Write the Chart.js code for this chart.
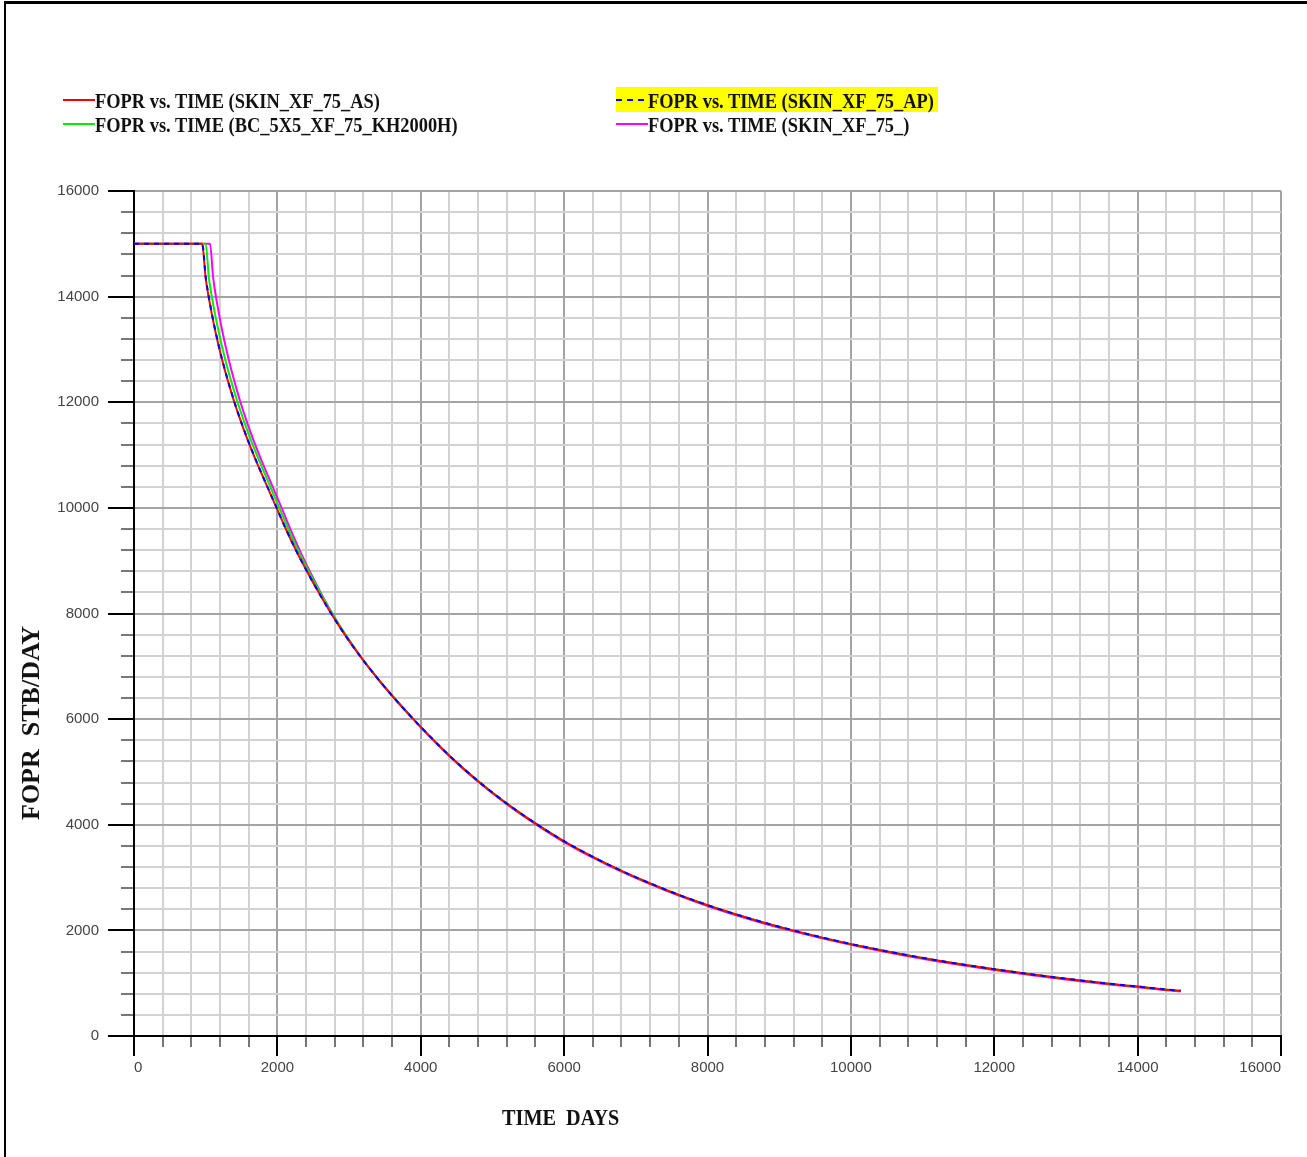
<!DOCTYPE html>
<html lang="en">
<head>
<meta charset="UTF-8">
<title>FOPR vs. TIME</title>
<style>
    body {
        margin: 0;
        background: #ffffff;
    }

    .page {
        position: relative;
        width: 1307px;
        height: 1157px;
        overflow: hidden;
    }

    /* marco negro arriba y a la izquierda */
    .frame {
        position: absolute;
        left: 4px;
        top: 1px;
        right: -10px;
        bottom: -10px;
        border-top: 3px solid #000;
        border-left: 2px solid #000;
    }

    .chart-box {
        position: absolute;
        left: 0;
        top: 0;
        width: 1307px;
        height: 1157px;
    }

    .legend-item {
        position: absolute;
        height: 24px;
        line-height: 24px;
        padding-left: 32px;
        font: bold 20px 'Liberation Serif', serif;
        color: #111;
        white-space: nowrap;
    }

    .legend-item .txt {
        display: inline-block;
        transform: scaleX(0.92);
        transform-origin: left center;
    }

    .swatch {
        position: absolute;
        left: 0;
        top: 9px;
        width: 32px;
        height: 2px;
    }

    .highlight {
        position: absolute;
        left: 616px;
        top: 87px;
        width: 322px;
        height: 25px;
        background: #ffff00;
    }

    .axis-title {
        position: absolute;
        font: bold 23px 'Liberation Serif', serif;
        color: #111;
        white-space: pre;
    }
</style>
</head>
<body>
<div class="page">
    <div class="frame"></div>
    <div class="chart-box"><canvas id="foprChart"></canvas></div>

    <div class="highlight"></div>
    <div class="legend-item" style="left:63px; top:90px;"><span class="swatch" style="background:#ff0000;"></span><span class="txt">FOPR vs. TIME (SKIN_XF_75_AS)</span></div>
    <div class="legend-item" style="left:63px; top:114px;"><span class="swatch" style="background:#00ee00;"></span><span class="txt">FOPR vs. TIME (BC_5X5_XF_75_KH2000H)</span></div>
    <div class="legend-item" style="left:616px; top:90px;"><span class="swatch" style="background:repeating-linear-gradient(to right,#0000ff 0 6px,transparent 6px 11px);"></span><span class="txt">FOPR vs. TIME (SKIN_XF_75_AP)</span></div>
    <div class="legend-item" style="left:616px; top:114px;"><span class="swatch" style="background:#ff00ff;"></span><span class="txt">FOPR vs. TIME (SKIN_XF_75_)</span></div>

    <div class="axis-title" style="left:502px; top:1105px; transform:scaleX(0.88); transform-origin:left top;">TIME  DAYS</div>
    <div class="axis-title" style="left:31px; top:723px; font-size:26px; transform:translate(-50%,-50%) rotate(-90deg);">FOPR  STB/DAY</div>
</div>

<script src="https://cdn.jsdelivr.net/npm/chart.js"></script>
<script>
    // etiquetas de los ejes (las marcas menores van cada 400)
    const xTickValues = [0, 2000, 4000, 6000, 8000, 10000, 12000, 14000, 16000];
    const yTickValues = [0, 2000, 4000, 6000, 8000, 10000, 12000, 14000, 16000];

    // SKIN_XF_75_AS (rojo)
    const timeAS = [0, 950, 1000, 1050, 1100, 1150, 1200, 1250, 1300, 1350, 1400, 1500, 1600, 1700, 1800, 1900, 2000, 2115, 2258, 2412, 2575, 2750, 2940, 3150, 3379, 3629, 3896, 4000, 4400, 4800, 5200, 5600, 6000, 6400, 6800, 7200, 7600, 8000, 8400, 8800, 9200, 9600, 10000, 10400, 10800, 11200, 11600, 12000, 12400, 12800, 13200, 13600, 14000, 14400, 14600];
    const rateAS = [15000, 15000, 14350, 13930, 13570, 13250, 12960, 12695, 12450, 12220, 12000, 11600, 11235, 10900, 10585, 10275, 9965, 9610, 9200, 8800, 8400, 8000, 7600, 7200, 6800, 6400, 6000, 5850, 5305, 4825, 4400, 4025, 3685, 3390, 3125, 2888, 2670, 2475, 2300, 2140, 1995, 1862, 1740, 1628, 1525, 1430, 1343, 1262, 1186, 1115, 1050, 988, 935, 878, 855];

    // SKIN_XF_75_AP (azul discontinua)
    const timeAP = [0, 952, 1002, 1052, 1102, 1152, 1202, 1252, 1302, 1352, 1402, 1502, 1602, 1702, 1801, 1901, 2001, 2116, 2258, 2412, 2575, 2750, 2940, 3150, 3379, 3629, 3896, 4000, 4400, 4800, 5200, 5600, 6000, 6400, 6800, 7200, 7600, 8000, 8400, 8800, 9200, 9600, 10000, 10400, 10800, 11200, 11600, 12000, 12400, 12800, 13200, 13600, 14000, 14400, 14600];
    const rateAP = [15000, 15000, 14350, 13930, 13570, 13250, 12960, 12695, 12450, 12220, 12000, 11600, 11235, 10900, 10585, 10275, 9965, 9610, 9200, 8800, 8400, 8000, 7600, 7200, 6800, 6400, 6000, 5852, 5308, 4828, 4403, 4028, 3688, 3393, 3128, 2891, 2673, 2478, 2303, 2143, 1998, 1865, 1743, 1631, 1528, 1433, 1346, 1265, 1189, 1118, 1053, 991, 938, 881, 858];

    // BC_5X5_XF_75_KH2000H (verde)
    const timeBC = [0, 1000, 1045, 1095, 1145, 1195, 1245, 1295, 1345, 1395, 1445, 1545, 1645, 1745, 1843, 1940, 2038, 2150, 2288, 2438, 2595, 2765, 2950, 3155, 3382, 3631, 3897, 4000, 4400, 4800, 5200, 5600, 6000, 6400, 6800, 7200, 7600, 8000, 8400, 8800, 9200, 9600, 10000, 10400, 10800, 11200, 11600, 12000, 12400, 12800, 13200, 13600, 14000, 14400, 14600];
    const rateBC = [15000, 15000, 14350, 13930, 13570, 13250, 12960, 12695, 12450, 12220, 12000, 11600, 11235, 10900, 10585, 10275, 9965, 9610, 9200, 8800, 8400, 8000, 7600, 7200, 6800, 6400, 6000, 5853, 5307, 4826, 4400, 4025, 3685, 3390, 3125, 2888, 2670, 2475, 2300, 2140, 1995, 1862, 1740, 1628, 1525, 1430, 1343, 1262, 1186, 1115, 1050, 988, 935, 878, 855];

    // SKIN_XF_75_ (magenta)
    const timeSK = [0, 1060, 1105, 1152, 1200, 1247, 1295, 1342, 1390, 1437, 1485, 1582, 1680, 1778, 1876, 1973, 2070, 2177, 2310, 2452, 2603, 2766, 2948, 3153, 3380, 3629, 3896, 4000, 4400, 4800, 5200, 5600, 6000, 6400, 6800, 7200, 7600, 8000, 8400, 8800, 9200, 9600, 10000, 10400, 10800, 11200, 11600, 12000, 12400, 12800, 13200, 13600, 14000, 14400, 14600];
    const rateSK = [15000, 15000, 14350, 13930, 13570, 13250, 12960, 12695, 12450, 12220, 12000, 11600, 11235, 10900, 10585, 10275, 9965, 9610, 9200, 8800, 8400, 8000, 7600, 7200, 6800, 6400, 6000, 5845, 5298, 4815, 4390, 4013, 3672, 3377, 3112, 2875, 2657, 2462, 2287, 2127, 1982, 1849, 1727, 1615, 1512, 1417, 1330, 1250, 1174, 1103, 1038, 976, 923, 866, 843];

    function toPoints(times, rates) {
        return times.map((t, i) => ({ x: t, y: rates[i] }));
    }

    const isMajor = v => v % 2000 === 0;

    // marcas largas en los valores principales
    const majorTickMarks = {
        id: 'majorTickMarks',
        afterDraw(chart) {
            const { ctx, chartArea, scales } = chart;
            ctx.save();
            ctx.strokeStyle = '#000';
            ctx.lineWidth = 2;
            xTickValues.forEach(v => {
                const px = Math.round(scales.x.getPixelForValue(v));
                ctx.beginPath();
                ctx.moveTo(px, chartArea.bottom);
                ctx.lineTo(px, chartArea.bottom + 20);
                ctx.stroke();
            });
            yTickValues.forEach(v => {
                const py = Math.round(scales.y.getPixelForValue(v));
                ctx.beginPath();
                ctx.moveTo(chartArea.left - 26, py);
                ctx.lineTo(chartArea.left, py);
                ctx.stroke();
            });
            ctx.restore();
        }
    };

    const tickFont = { family: "'Liberation Sans Narrow', 'Liberation Sans', sans-serif", size: 15 };

    const ctx = document.getElementById('foprChart').getContext('2d');
    const foprChart = new Chart(ctx, {
        type: 'line',
        data: {
            datasets: [
                {
                    label: 'FOPR vs. TIME (SKIN_XF_75_AP)',
                    data: toPoints(timeAP, rateAP),
                    borderColor: '#0000ff',
                    borderDash: [5, 5],
                    borderWidth: 2
                },
                {
                    label: 'FOPR vs. TIME (SKIN_XF_75_AS)',
                    data: toPoints(timeAS, rateAS),
                    borderColor: '#ff0000',
                    borderWidth: 2
                },
                {
                    label: 'FOPR vs. TIME (BC_5X5_XF_75_KH2000H)',
                    data: toPoints(timeBC, rateBC),
                    borderColor: '#00ee00',
                    borderWidth: 2
                },
                {
                    label: 'FOPR vs. TIME (SKIN_XF_75_)',
                    data: toPoints(timeSK, rateSK),
                    borderColor: '#ff00ff',
                    borderWidth: 2
                }
            ]
        },
        options: {
            responsive: true,
            maintainAspectRatio: false,
            animation: false,
            elements: {
                point: { radius: 0 },
                line: { cubicInterpolationMode: 'monotone', fill: false }
            },
            layout: {
                padding: { left: 0, right: 26, top: 191, bottom: 61 }
            },
            plugins: {
                legend: { display: false },
                tooltip: { enabled: false }
            },
            scales: {
                x: {
                    type: 'linear',
                    min: 0,
                    max: 16000,
                    afterFit: scale => { scale.height = 60; },
                    border: { color: '#000', width: 2 },
                    grid: {
                        color: c => isMajor(c.tick.value) ? '#a4a4a4' : '#d2d2d2',
                        lineWidth: 2,
                        tickLength: 11,
                        tickWidth: 2,
                        tickColor: c => isMajor(c.tick.value) ? '#000' : '#777'
                    },
                    ticks: {
                        stepSize: 400,
                        autoSkip: false,
                        maxRotation: 0,
                        align: 'inner',
                        padding: 12,
                        color: '#444',
                        font: tickFont,
                        callback: v => xTickValues.includes(v) ? String(v) : ''
                    }
                },
                y: {
                    type: 'linear',
                    min: 0,
                    max: 16000,
                    afterFit: scale => { scale.width = 134; },
                    border: { color: '#000', width: 2 },
                    grid: {
                        color: c => isMajor(c.tick.value) ? '#a4a4a4' : '#d2d2d2',
                        lineWidth: 2,
                        tickLength: 13,
                        tickWidth: 2,
                        tickColor: c => isMajor(c.tick.value) ? '#000' : '#777'
                    },
                    ticks: {
                        stepSize: 400,
                        autoSkip: false,
                        padding: 22,
                        color: '#444',
                        font: tickFont,
                        callback: v => yTickValues.includes(v) ? String(v) : ''
                    }
                }
            }
        },
        plugins: [majorTickMarks]
    });
</script>
</body>
</html>
